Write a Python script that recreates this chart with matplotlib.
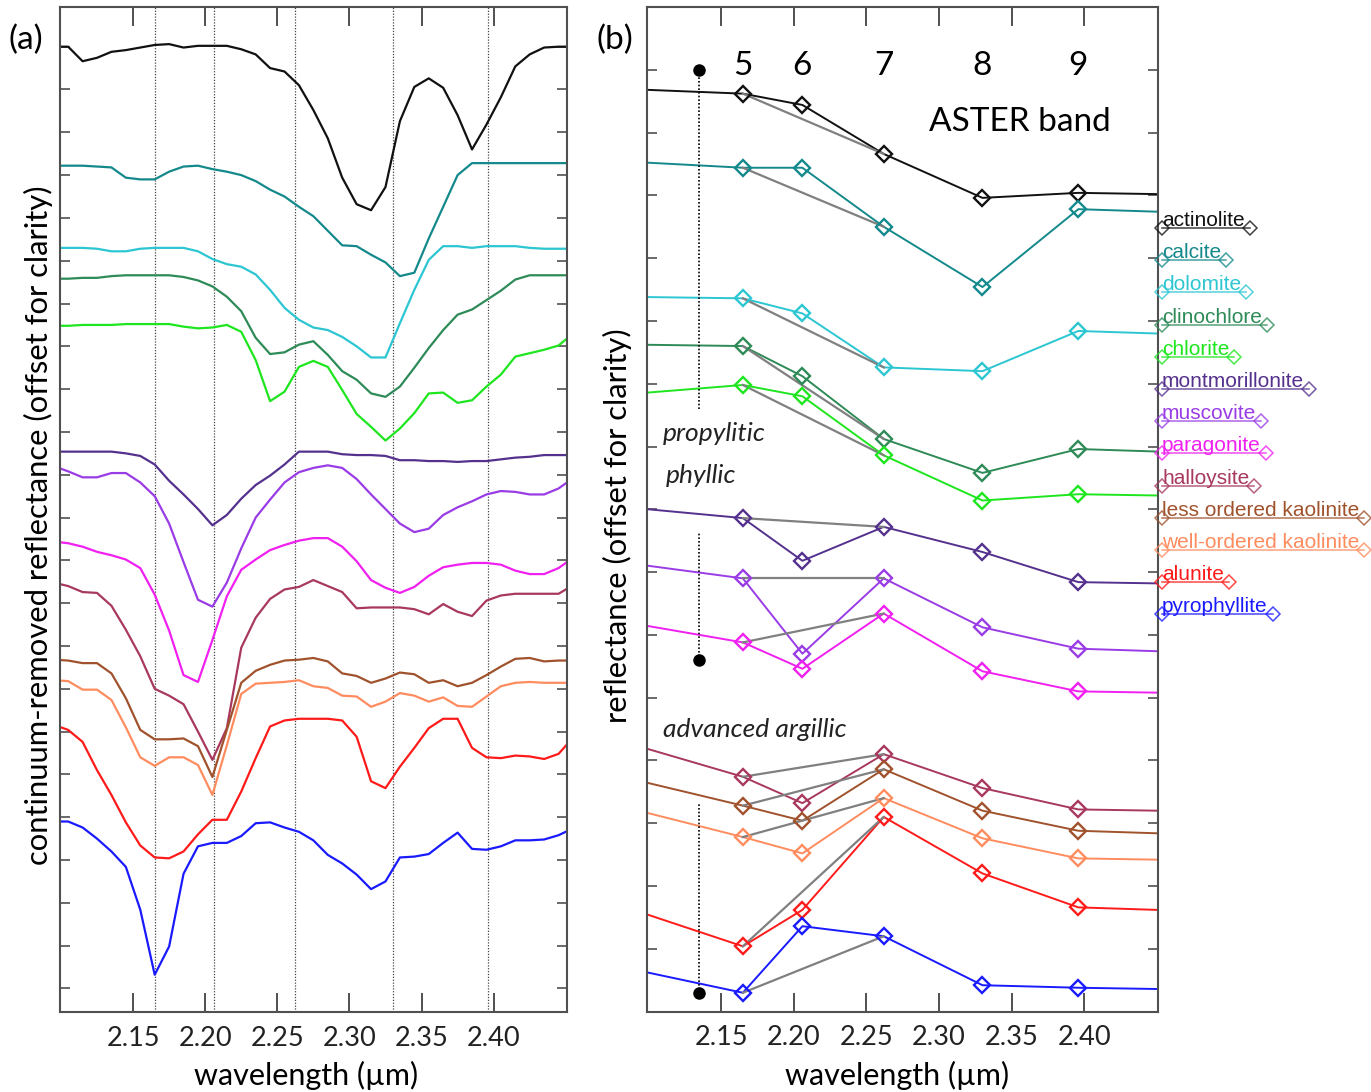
import numpy as np
import matplotlib
matplotlib.use("Agg")
import matplotlib.pyplot as plt
from matplotlib.lines import Line2D
from matplotlib.ticker import FormatStrFormatter

plt.rcParams['font.family'] = ['Lato', 'DejaVu Sans']

# library spectra sampling (um)
wavelength = [2.095, 2.105, 2.115, 2.125, 2.135, 2.145, 2.155, 2.165, 2.175, 2.185,
              2.195, 2.205, 2.215, 2.225, 2.235, 2.245, 2.255, 2.265, 2.275, 2.285,
              2.295, 2.305, 2.315, 2.325, 2.335, 2.345, 2.355, 2.365, 2.375, 2.385,
              2.395, 2.405, 2.415, 2.425, 2.435, 2.445, 2.455]

minerals = ['actinolite', 'calcite', 'dolomite', 'clinochlore', 'chlorite',
            'montmorillonite', 'muscovite', 'paragonite', 'halloysite',
            'less ordered kaolinite', 'well-ordered kaolinite', 'alunite', 'pyrophyllite']
colors = ['#111111', '#14898c', '#2cc6d2', '#2e8b57', '#1ee61e',
          '#55318e', '#9a3ce6', '#f020f0', '#a8385e',
          '#a0522d', '#ff8c5f', '#ff1a1a', '#1a1aff']

# (a) continuum-removed reflectance, offset for clarity
actinolite = [1.100, 1.100, 1.083, 1.087, 1.094, 1.096, 1.099, 1.102, 1.103, 1.099,
              1.101, 1.101, 1.101, 1.097, 1.091, 1.075, 1.071, 1.055, 1.026, 0.993,
              0.947, 0.916, 0.909, 0.936, 1.013, 1.053, 1.063, 1.052, 1.020, 0.980,
              1.009, 1.041, 1.077, 1.091, 1.099, 1.100, 1.100]
calcite = [0.961, 0.961, 0.961, 0.960, 0.959, 0.947, 0.945, 0.945, 0.954, 0.960,
           0.961, 0.957, 0.954, 0.950, 0.943, 0.933, 0.925, 0.913, 0.902, 0.885,
           0.868, 0.867, 0.857, 0.848, 0.832, 0.836, 0.876, 0.913, 0.950, 0.964,
           0.964, 0.964, 0.964, 0.964, 0.964, 0.964, 0.964]
dolomite = [0.865, 0.865, 0.865, 0.864, 0.861, 0.861, 0.864, 0.865, 0.865, 0.865,
            0.861, 0.852, 0.846, 0.843, 0.834, 0.816, 0.795, 0.781, 0.772, 0.769,
            0.761, 0.750, 0.737, 0.737, 0.777, 0.816, 0.851, 0.867, 0.867, 0.865,
            0.867, 0.867, 0.867, 0.865, 0.864, 0.864, 0.864]
clinochlore = [0.829, 0.829, 0.830, 0.830, 0.832, 0.833, 0.833, 0.833, 0.833, 0.831,
               0.827, 0.820, 0.808, 0.791, 0.760, 0.741, 0.743, 0.752, 0.756, 0.740,
               0.721, 0.711, 0.695, 0.691, 0.703, 0.725, 0.748, 0.769, 0.787, 0.793,
               0.804, 0.815, 0.828, 0.833, 0.833, 0.833, 0.833]
chlorite = [0.774, 0.774, 0.775, 0.775, 0.775, 0.776, 0.776, 0.776, 0.776, 0.773,
            0.771, 0.772, 0.775, 0.767, 0.734, 0.686, 0.697, 0.726, 0.733, 0.726,
            0.699, 0.671, 0.656, 0.640, 0.654, 0.672, 0.695, 0.696, 0.684, 0.687,
            0.703, 0.717, 0.738, 0.742, 0.746, 0.751, 0.765]
montmorillonite = [0.627, 0.627, 0.627, 0.627, 0.627, 0.625, 0.622, 0.612, 0.593, 0.577,
                   0.560, 0.541, 0.553, 0.572, 0.588, 0.599, 0.612, 0.627, 0.627, 0.627,
                   0.624, 0.623, 0.623, 0.622, 0.617, 0.617, 0.616, 0.616, 0.615, 0.616,
                   0.616, 0.618, 0.620, 0.621, 0.623, 0.623, 0.623]
muscovite = [0.610, 0.604, 0.597, 0.597, 0.602, 0.602, 0.591, 0.575, 0.543, 0.498,
             0.454, 0.446, 0.474, 0.514, 0.550, 0.571, 0.591, 0.603, 0.608, 0.611,
             0.608, 0.595, 0.577, 0.560, 0.543, 0.533, 0.537, 0.553, 0.562, 0.569,
             0.577, 0.581, 0.580, 0.577, 0.577, 0.584, 0.596]
paragonite = [0.522, 0.520, 0.516, 0.510, 0.506, 0.501, 0.491, 0.460, 0.418, 0.366,
              0.358, 0.407, 0.458, 0.489, 0.501, 0.512, 0.518, 0.523, 0.526, 0.526,
              0.516, 0.499, 0.477, 0.468, 0.462, 0.469, 0.482, 0.492, 0.495, 0.497,
              0.497, 0.495, 0.488, 0.484, 0.484, 0.491, 0.503]
halloysite = [0.474, 0.470, 0.463, 0.462, 0.447, 0.419, 0.388, 0.350, 0.342, 0.332,
              0.300, 0.267, 0.304, 0.398, 0.433, 0.455, 0.466, 0.469, 0.477, 0.470,
              0.463, 0.444, 0.445, 0.445, 0.445, 0.443, 0.437, 0.449, 0.440, 0.435,
              0.453, 0.459, 0.461, 0.461, 0.461, 0.461, 0.471]
kaolinite_lo = [0.384, 0.383, 0.380, 0.380, 0.368, 0.339, 0.302, 0.291, 0.291, 0.292,
                0.283, 0.247, 0.302, 0.357, 0.371, 0.378, 0.383, 0.384, 0.386, 0.382,
                0.368, 0.365, 0.357, 0.362, 0.369, 0.367, 0.357, 0.360, 0.353, 0.357,
                0.366, 0.376, 0.385, 0.386, 0.382, 0.383, 0.383]
kaolinite_wo = [0.360, 0.359, 0.349, 0.349, 0.337, 0.305, 0.270, 0.260, 0.270, 0.270,
                0.261, 0.226, 0.284, 0.344, 0.356, 0.357, 0.358, 0.360, 0.353, 0.351,
                0.342, 0.341, 0.329, 0.335, 0.345, 0.342, 0.335, 0.340, 0.330, 0.329,
                0.341, 0.353, 0.357, 0.358, 0.357, 0.357, 0.357]
alunite = [0.308, 0.302, 0.288, 0.255, 0.226, 0.194, 0.167, 0.153, 0.152, 0.160,
           0.180, 0.197, 0.197, 0.230, 0.269, 0.306, 0.313, 0.315, 0.315, 0.315,
           0.313, 0.294, 0.242, 0.234, 0.259, 0.281, 0.304, 0.315, 0.315, 0.281,
           0.270, 0.269, 0.272, 0.271, 0.268, 0.274, 0.293]
pyrophyllite = [0.195, 0.195, 0.188, 0.175, 0.160, 0.142, 0.092, 0.016, 0.049, 0.134,
                0.166, 0.170, 0.170, 0.178, 0.193, 0.194, 0.188, 0.183, 0.173, 0.156,
                0.146, 0.133, 0.116, 0.125, 0.153, 0.154, 0.157, 0.170, 0.182, 0.163,
                0.162, 0.166, 0.173, 0.173, 0.174, 0.179, 0.187]
spectra = [actinolite, calcite, dolomite, clinochlore, chlorite, montmorillonite,
           muscovite, paragonite, halloysite, kaolinite_lo, kaolinite_wo, alunite, pyrophyllite]

# (b) resampled to ASTER SWIR bands 5-9 (plus the values at the plot edges)
aster_bands = ['5', '6', '7', '8', '9']
band_centers = [2.165, 2.206, 2.262, 2.330, 2.396]
edge_left, edge_right = 2.10, 2.45
aster_actinolite = [0.684, 0.681, 0.672, 0.633, 0.598, 0.602, 0.601]
aster_calcite = [0.626, 0.622, 0.622, 0.575, 0.527, 0.589, 0.587]
aster_dolomite = [0.519, 0.518, 0.506, 0.463, 0.460, 0.492, 0.490]
aster_clinochlore = [0.481, 0.480, 0.456, 0.406, 0.379, 0.398, 0.396]
aster_chlorite = [0.443, 0.449, 0.440, 0.393, 0.357, 0.362, 0.361]
aster_montmorillonite = [0.350, 0.343, 0.309, 0.336, 0.316, 0.292, 0.291]
aster_muscovite = [0.305, 0.295, 0.235, 0.295, 0.256, 0.239, 0.237]
aster_paragonite = [0.257, 0.244, 0.223, 0.267, 0.221, 0.205, 0.204]
aster_halloysite = [0.159, 0.137, 0.116, 0.155, 0.128, 0.111, 0.110]
aster_kaolinite_lo = [0.132, 0.114, 0.102, 0.143, 0.110, 0.094, 0.092]
aster_kaolinite_wo = [0.108, 0.089, 0.076, 0.120, 0.088, 0.072, 0.071]
aster_alunite = [0.027, 0.002, 0.031, 0.105, 0.060, 0.033, 0.031]
aster_pyrophyllite = [-0.019, -0.035, 0.018, 0.010, -0.029, -0.031, -0.032]
aster = [aster_actinolite, aster_calcite, aster_dolomite, aster_clinochlore, aster_chlorite,
         aster_montmorillonite, aster_muscovite, aster_paragonite, aster_halloysite,
         aster_kaolinite_lo, aster_kaolinite_wo, aster_alunite, aster_pyrophyllite]

# alteration zone brackets in (b): dot end and top/bottom of the dotted line
zone_x = 2.135
zone_dot = [0.700, 0.230, -0.035]
zone_line_end = [0.430, 0.332, 0.115]
zone_labels = [('propylitic', 2.110, 0.404), ('phyllic', 2.112, 0.371),
               ('advanced argillic', 2.110, 0.169)]

W, H = 1371, 1092
fig = plt.figure(figsize=(W / 100, H / 100), dpi=100)
ax_a = fig.add_axes([59.5 / W, 1 - 1012 / H, 507 / W, 1004.7 / H])
ax_b = fig.add_axes([647 / W, 1 - 1011.6 / H, 510.5 / W, 1004.6 / H])

frame = '#505050'
for ax in (ax_a, ax_b):
    ax.set_xlim(2.099, 2.4505)
    ax.set_xticks([2.15, 2.20, 2.25, 2.30, 2.35, 2.40])
    ax.xaxis.set_major_formatter(FormatStrFormatter('%.2f'))
    ax.tick_params(axis='x', direction='in', top=True, bottom=True, length=14,
                   width=1.4, color=frame, labelsize=19.5, labelcolor='#222222', pad=10)
    ax.tick_params(axis='y', direction='in', left=True, right=True, length=7,
                   width=1.2, color=frame, labelleft=False)
    for s in ax.spines.values():
        s.set_color(frame)
        s.set_linewidth(1.5)

# ---- panel (a)
ax_a.set_ylim(-0.0275, 1.146)
ax_a.set_yticks(np.arange(0, 1.101, 0.05))
for b in band_centers:
    ax_a.axvline(b, color='#444444', lw=0.9, ls=(0, (1, 1.3)), zorder=1)
for spec, c in zip(spectra, colors):
    ax_a.plot(wavelength, spec, color=c, lw=1.6, zorder=2)

# ---- panel (b)
ax_b.set_ylim(-0.05, 0.75)
ax_b.set_yticks(np.arange(-0.05, 0.751, 0.05))
xb = [edge_left] + band_centers + [edge_right]
for vals, c in zip(aster, colors):
    ax_b.plot(xb, vals, color=c, lw=1.4, zorder=2)
    ax_b.plot(band_centers, vals[1:6], ls='none', marker='D', ms=8.5, mfc='none',
              mec=c, mew=1.7, zorder=4)
    ax_b.plot([band_centers[0], band_centers[2]], [vals[1], vals[3]],
              color='#808080', lw=1.6, zorder=3)

for yd, ye in zip(zone_dot, zone_line_end):
    ax_b.plot([zone_x, zone_x], [yd, ye], color='black', lw=1.2, ls=(0, (1, 1.2)))
    ax_b.plot(zone_x, yd, 'o', color='black', ms=8)
for txt, x, y in zone_labels:
    ax_b.text(x, y, txt, style='italic', fontsize=19, ha='left', va='baseline',
              color='#222222')

for lab, bc in zip(aster_bands, band_centers):
    ax_b.text(bc, 0.696, lab, fontsize=24, ha='center', va='baseline')
ax_b.text(2.356, 0.651, 'ASTER band', fontsize=24, ha='center', va='baseline')

# ---- labels
fig.text(8 / W, 1 - 40 / H, '(a)', fontsize=24, ha='left', va='center')
fig.text(597 / W, 1 - 40 / H, '(b)', fontsize=24, ha='left', va='center')
fig.text(38 / W, 1 - 525 / H, 'continuum-removed reflectance (offset for clarity)',
         rotation=90, fontsize=22.3, ha='center', va='center')
fig.text(617 / W, 1 - 526 / H, 'reflectance (offset for clarity)',
         rotation=90, fontsize=22.3, ha='center', va='center')
fig.text(306 / W, 1 - 1085 / H, 'wavelength (\u00b5m)', fontsize=22, ha='center', va='baseline')
fig.text(897 / W, 1 - 1085 / H, 'wavelength (\u00b5m)', fontsize=22, ha='center', va='baseline')

# ---- legend: coloured name with an underline ending in diamonds
renderer = fig.canvas.get_renderer()
x0 = 1162 / W
for i, (name, c) in enumerate(zip(minerals, colors)):
    yl = 1 - (228 + i * 32.2) / H
    t = fig.text(x0, yl + 2 / H, name, color=c, fontsize=15,
                 family=['Liberation Sans', 'DejaVu Sans'], ha='left', va='baseline')
    x1 = (t.get_window_extent(renderer).x1 + 5) / W
    fig.add_artist(Line2D([x0, x1], [yl, yl], transform=fig.transFigure, color=c,
                          lw=1.1, alpha=0.8, marker='D', ms=7, mfc='none', mew=1.1))

fig.savefig('out.png', dpi=100)
